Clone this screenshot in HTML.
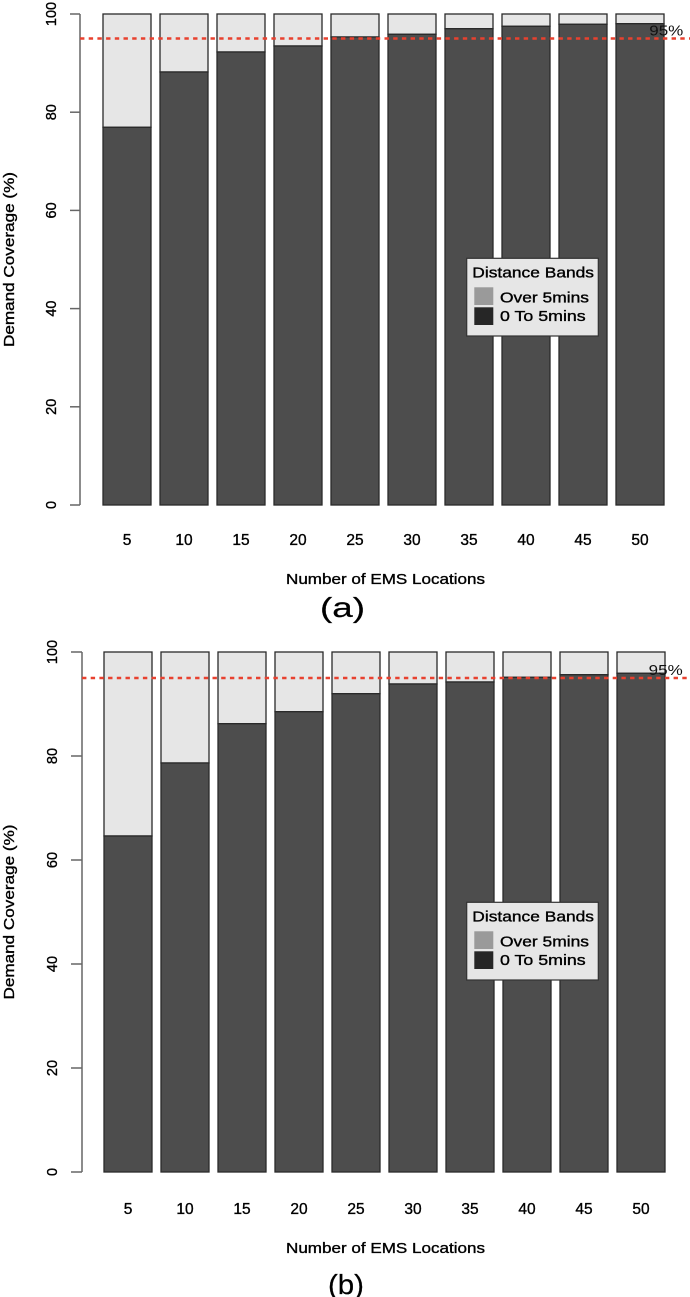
<!DOCTYPE html>
<html>
<head>
<meta charset="utf-8">
<style>
html,body{margin:0;padding:0;background:#fff;}
svg{display:block;}
text{font-family:"Liberation Sans", Arial, sans-serif;fill:#000;stroke:#000;stroke-width:0.35px;}
</style>
</head>
<body>
<svg width="690" height="1297" viewBox="0 0 690 1297" xmlns="http://www.w3.org/2000/svg">
<rect x="0" y="0" width="690" height="1297" fill="#fff"/>

<!-- ================= TOP CHART (a) ================= -->
<g stroke="#2a2a2a" stroke-width="1.3">
  <rect x="103" y="14" width="48" height="113.3" fill="#e6e6e6"/><rect x="103" y="127.3" width="48" height="377.7" fill="#4d4d4d"/>
  <rect x="160" y="14" width="48" height="58" fill="#e6e6e6"/><rect x="160" y="72" width="48" height="433" fill="#4d4d4d"/>
  <rect x="217" y="14" width="48" height="38" fill="#e6e6e6"/><rect x="217" y="52" width="48" height="453" fill="#4d4d4d"/>
  <rect x="274" y="14" width="48" height="32" fill="#e6e6e6"/><rect x="274" y="46" width="48" height="459" fill="#4d4d4d"/>
  <rect x="331" y="14" width="48" height="23" fill="#e6e6e6"/><rect x="331" y="37" width="48" height="468" fill="#4d4d4d"/>
  <rect x="388" y="14" width="48" height="20.3" fill="#e6e6e6"/><rect x="388" y="34.3" width="48" height="470.7" fill="#4d4d4d"/>
  <rect x="445" y="14" width="48" height="14.7" fill="#e6e6e6"/><rect x="445" y="28.7" width="48" height="476.3" fill="#4d4d4d"/>
  <rect x="502" y="14" width="48" height="12.3" fill="#e6e6e6"/><rect x="502" y="26.3" width="48" height="478.7" fill="#4d4d4d"/>
  <rect x="559" y="14" width="48" height="10.3" fill="#e6e6e6"/><rect x="559" y="24.3" width="48" height="480.7" fill="#4d4d4d"/>
  <rect x="616" y="14" width="48" height="9.7" fill="#e6e6e6"/><rect x="616" y="23.7" width="48" height="481.3" fill="#4d4d4d"/>
</g>

<!-- y axis -->
<g stroke="#666" stroke-width="1.5" fill="none">
  <line x1="80" y1="14" x2="80" y2="505"/>
  <line x1="70" y1="14" x2="80" y2="14"/>
  <line x1="70" y1="112.2" x2="80" y2="112.2"/>
  <line x1="70" y1="210.4" x2="80" y2="210.4"/>
  <line x1="70" y1="308.6" x2="80" y2="308.6"/>
  <line x1="70" y1="406.8" x2="80" y2="406.8"/>
  <line x1="70" y1="505" x2="80" y2="505"/>
</g>
<g font-size="14.5" text-anchor="middle">
  <text transform="translate(56,14) rotate(-90)">100</text>
  <text transform="translate(56,112.2) rotate(-90)">80</text>
  <text transform="translate(56,210.4) rotate(-90)">60</text>
  <text transform="translate(56,308.6) rotate(-90)">40</text>
  <text transform="translate(56,406.8) rotate(-90)">20</text>
  <text transform="translate(56,505) rotate(-90)">0</text>
</g>
<text transform="translate(14,259.5) rotate(-90)" font-size="15" text-anchor="middle" textLength="175" lengthAdjust="spacingAndGlyphs">Demand Coverage (%)</text>

<!-- 95% line -->
<line x1="80" y1="38.5" x2="690" y2="38.5" stroke="#e8412f" stroke-width="2.5" stroke-dasharray="4.4 4.3"/>
<text x="649.3" y="35.3" font-size="15" textLength="34" lengthAdjust="spacingAndGlyphs" style="fill:#111;stroke:none">95%</text>

<!-- x tick labels -->
<g font-size="15.5" text-anchor="middle">
  <text x="127" y="545">5</text>
  <text x="184" y="545">10</text>
  <text x="241" y="545">15</text>
  <text x="298" y="545">20</text>
  <text x="355" y="545">25</text>
  <text x="412" y="545">30</text>
  <text x="469" y="545">35</text>
  <text x="526" y="545">40</text>
  <text x="583" y="545">45</text>
  <text x="640" y="545">50</text>
</g>
<text x="286" y="584" font-size="15" textLength="199" lengthAdjust="spacingAndGlyphs">Number of EMS Locations</text>
<text x="320" y="617" font-size="28" textLength="45" lengthAdjust="spacingAndGlyphs" style="stroke-width:0.2px">(a)</text>

<!-- legend top -->
<rect x="466.7" y="258.3" width="131.6" height="77.7" fill="#e6e6e6" stroke="#333" stroke-width="1.2"/>
<text x="472.3" y="277.3" font-size="15" textLength="121.7" lengthAdjust="spacingAndGlyphs">Distance Bands</text>
<rect x="474.3" y="287.3" width="19" height="17.7" fill="#9a9a9a"/>
<rect x="474.3" y="307.3" width="19" height="17.7" fill="#262626"/>
<text x="500" y="302.3" font-size="15" textLength="89" lengthAdjust="spacingAndGlyphs">Over 5mins</text>
<text x="500" y="321" font-size="15" textLength="85.7" lengthAdjust="spacingAndGlyphs">0 To 5mins</text>

<!-- ================= BOTTOM CHART (b) ================= -->
<g stroke="#2a2a2a" stroke-width="1.3">
  <rect x="104" y="652" width="48" height="184" fill="#e6e6e6"/><rect x="104" y="836" width="48" height="336" fill="#4d4d4d"/>
  <rect x="161" y="652" width="48" height="111" fill="#e6e6e6"/><rect x="161" y="763" width="48" height="409" fill="#4d4d4d"/>
  <rect x="218" y="652" width="48" height="71.7" fill="#e6e6e6"/><rect x="218" y="723.7" width="48" height="448.3" fill="#4d4d4d"/>
  <rect x="275" y="652" width="48" height="59.7" fill="#e6e6e6"/><rect x="275" y="711.7" width="48" height="460.3" fill="#4d4d4d"/>
  <rect x="332" y="652" width="48" height="41.7" fill="#e6e6e6"/><rect x="332" y="693.7" width="48" height="478.3" fill="#4d4d4d"/>
  <rect x="389" y="652" width="48" height="32" fill="#e6e6e6"/><rect x="389" y="684" width="48" height="488" fill="#4d4d4d"/>
  <rect x="446" y="652" width="48" height="30" fill="#e6e6e6"/><rect x="446" y="682" width="48" height="490" fill="#4d4d4d"/>
  <rect x="503" y="652" width="48" height="25.3" fill="#e6e6e6"/><rect x="503" y="677.3" width="48" height="494.7" fill="#4d4d4d"/>
  <rect x="560" y="652" width="48" height="22.7" fill="#e6e6e6"/><rect x="560" y="674.7" width="48" height="497.3" fill="#4d4d4d"/>
  <rect x="617" y="652" width="48" height="21.3" fill="#e6e6e6"/><rect x="617" y="673.3" width="48" height="498.7" fill="#4d4d4d"/>
</g>

<g stroke="#666" stroke-width="1.5" fill="none">
  <line x1="82" y1="652" x2="82" y2="1172"/>
  <line x1="71" y1="652" x2="82" y2="652"/>
  <line x1="71" y1="756" x2="82" y2="756"/>
  <line x1="71" y1="860" x2="82" y2="860"/>
  <line x1="71" y1="964" x2="82" y2="964"/>
  <line x1="71" y1="1068" x2="82" y2="1068"/>
  <line x1="71" y1="1172" x2="82" y2="1172"/>
</g>
<g font-size="14.5" text-anchor="middle">
  <text transform="translate(57,652) rotate(-90)">100</text>
  <text transform="translate(57,756) rotate(-90)">80</text>
  <text transform="translate(57,860) rotate(-90)">60</text>
  <text transform="translate(57,964) rotate(-90)">40</text>
  <text transform="translate(57,1068) rotate(-90)">20</text>
  <text transform="translate(57,1172) rotate(-90)">0</text>
</g>
<text transform="translate(14,912) rotate(-90)" font-size="15" text-anchor="middle" textLength="175" lengthAdjust="spacingAndGlyphs">Demand Coverage (%)</text>

<line x1="82" y1="678" x2="690" y2="678" stroke="#e8412f" stroke-width="2.5" stroke-dasharray="4.4 4.3"/>
<text x="648.7" y="675" font-size="15" textLength="34" lengthAdjust="spacingAndGlyphs" style="fill:#111;stroke:none">95%</text>

<g font-size="15.5" text-anchor="middle">
  <text x="128" y="1214">5</text>
  <text x="185" y="1214">10</text>
  <text x="242" y="1214">15</text>
  <text x="299" y="1214">20</text>
  <text x="356" y="1214">25</text>
  <text x="413" y="1214">30</text>
  <text x="470" y="1214">35</text>
  <text x="527" y="1214">40</text>
  <text x="584" y="1214">45</text>
  <text x="641" y="1214">50</text>
</g>
<text x="286" y="1253" font-size="15" textLength="199" lengthAdjust="spacingAndGlyphs">Number of EMS Locations</text>
<text x="328" y="1294" font-size="28" textLength="36" lengthAdjust="spacingAndGlyphs" style="stroke-width:0.2px">(b)</text>

<!-- legend bottom -->
<rect x="466.7" y="902.3" width="131.6" height="77.7" fill="#e6e6e6" stroke="#333" stroke-width="1.2"/>
<text x="472.3" y="921.3" font-size="15" textLength="121.7" lengthAdjust="spacingAndGlyphs">Distance Bands</text>
<rect x="474.3" y="931.3" width="19" height="17.7" fill="#9a9a9a"/>
<rect x="474.3" y="951.3" width="19" height="17.7" fill="#262626"/>
<text x="500" y="946.3" font-size="15" textLength="89" lengthAdjust="spacingAndGlyphs">Over 5mins</text>
<text x="500" y="965" font-size="15" textLength="85.7" lengthAdjust="spacingAndGlyphs">0 To 5mins</text>
</svg>
</body>
</html>
